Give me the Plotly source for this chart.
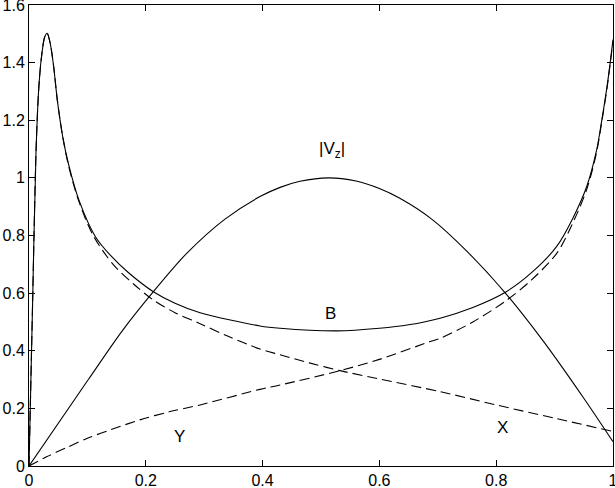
import plotly.graph_objects as go

# |Vz| curve
vz_x = [0, 0.1016, 0.16, 0.213, 0.27, 0.3356, 0.3955, 0.43, 0.464, 0.5125,
        0.56, 0.6, 0.635, 0.6895, 0.75, 0.815, 0.88, 0.95, 1.0]
vz_y = [0, 0.30, 0.47, 0.605, 0.738, 0.857, 0.935, 0.967, 0.988, 1.0,
        0.989, 0.963, 0.929, 0.857, 0.745, 0.602, 0.435, 0.235, 0.084]

# B curve
b_x = [0, 0.006, 0.012, 0.017, 0.022, 0.027, 0.031, 0.036, 0.042, 0.0485, 0.058, 0.068,
       0.086, 0.114, 0.14, 0.171, 0.213, 0.25, 0.293, 0.3955, 0.43, 0.527, 0.6, 0.65, 0.704,
       0.76, 0.815, 0.86, 0.9036, 0.9315, 0.955, 0.972, 0.98, 0.99, 1.0]
b_y = [0, 0.55, 1.09, 1.32, 1.43, 1.49, 1.502, 1.47, 1.39, 1.27, 1.14, 1.045,
       0.92, 0.795, 0.73, 0.67, 0.605, 0.565, 0.532, 0.486, 0.478, 0.469, 0.478, 0.49, 0.513,
       0.55, 0.602, 0.67, 0.762, 0.861, 0.97, 1.097, 1.19, 1.32, 1.48]

# X component (dashed, decreasing)
x_x = [0, 0.006, 0.012, 0.017, 0.022, 0.027, 0.031, 0.036, 0.042, 0.0485, 0.058, 0.068,
       0.086, 0.11, 0.144, 0.18, 0.213, 0.25, 0.293, 0.34, 0.3955, 0.43, 0.48, 0.5325, 0.6,
       0.704, 0.8, 0.9, 1.0]
x_y = [0, 0.55, 1.09, 1.32, 1.43, 1.49, 1.502, 1.47, 1.39, 1.27, 1.14, 1.04,
       0.915, 0.80, 0.70, 0.63, 0.576, 0.532, 0.494, 0.451, 0.406, 0.386, 0.358, 0.331, 0.302,
       0.258, 0.212, 0.166, 0.12]

# Y component (dashed, increasing)
y_x = [0, 0.03, 0.0645, 0.101, 0.14, 0.19, 0.24, 0.293, 0.3955, 0.43,
       0.5325, 0.6, 0.687, 0.704, 0.76, 0.815, 0.86, 0.9036, 0.9315, 0.955, 0.972, 0.98,
       0.99, 1.0]
y_y = [0, 0.032, 0.064, 0.097, 0.126, 0.16, 0.188, 0.212, 0.266, 0.281,
       0.331, 0.37, 0.432, 0.443, 0.50, 0.571, 0.645, 0.738, 0.845, 0.96, 1.09, 1.185,
       1.315, 1.475]

labels = ["|V<sub>z</sub>|", "B", "Y", "X"]
label_x = [0.519, 0.517, 0.257, 0.81]
label_y = [1.097, 0.531, 0.104, 0.135]

x_ticks = [0, 0.2, 0.4, 0.6, 0.8, 1]
y_ticks = [0, 0.2, 0.4, 0.6, 0.8, 1, 1.2, 1.4, 1.6]

FONT = "Liberation Sans, Arial, Helvetica, sans-serif"

fig = go.Figure()
line_solid = dict(color="black", width=1.1, shape="spline", smoothing=0.9)
line_dash = dict(color="black", width=1.1, shape="spline", smoothing=0.9, dash="10px,5px")

fig.add_trace(go.Scatter(x=x_x, y=x_y, mode="lines", line=line_dash, hoverinfo="skip"))
fig.add_trace(go.Scatter(x=y_x, y=y_y, mode="lines", line=line_dash, hoverinfo="skip"))
fig.add_trace(go.Scatter(x=b_x, y=b_y, mode="lines", line=line_solid, hoverinfo="skip"))
fig.add_trace(go.Scatter(x=vz_x, y=vz_y, mode="lines", line=line_solid, hoverinfo="skip"))

for t, lx, ly in zip(labels, label_x, label_y):
    fig.add_annotation(x=lx, y=ly, text=t, showarrow=False,
                       font=dict(family=FONT, size=17, color="black"))

axis_common = dict(showgrid=False, zeroline=False, showline=True, linecolor="black",
                   linewidth=1, mirror="allticks", ticks="inside", ticklen=6,
                   tickcolor="black", automargin=False, ticklabeloverflow="allow",
                   tickfont=dict(family=FONT, size=16, color="black"))

fig.update_xaxes(range=[0, 1], tickvals=x_ticks, ticktext=[str(v) for v in x_ticks], **axis_common)
fig.update_yaxes(range=[0, 1.6], tickvals=y_ticks, ticktext=[str(v) for v in y_ticks], **axis_common)

fig.update_layout(width=615, height=488, showlegend=False,
                  margin=dict(l=29, r=2, t=5, b=22),
                  plot_bgcolor="white", paper_bgcolor="white")

fig.write_html("out.html", config={"displayModeBar": False},
               post_script="document.body.style.margin='0px';document.body.style.padding='0px';")
